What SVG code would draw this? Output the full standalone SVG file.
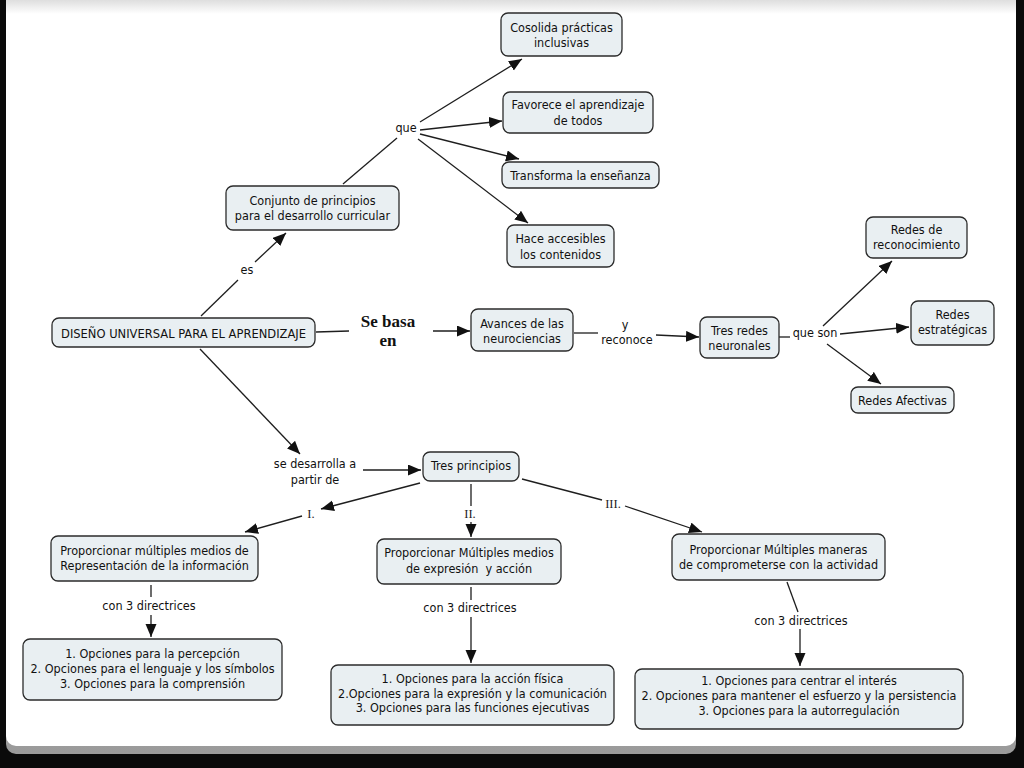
<svg xmlns="http://www.w3.org/2000/svg" width="1024" height="768" viewBox="0 0 1024 768">
<defs>
<style>
.box{fill:#e9eff2;stroke:#2b2b2b;stroke-width:1.3}
.t{font-family:"DejaVu Sans Condensed","DejaVu Sans",sans-serif;font-size:12.5px;fill:#111;text-anchor:middle;white-space:pre}
.r{font-family:"Liberation Serif",serif;font-size:12.5px;fill:#1e1e1e;text-anchor:middle}
.b{font-family:"Liberation Serif",serif;font-size:17px;font-weight:bold;fill:#111;text-anchor:middle}
.c line{stroke:#1e1e1e;stroke-width:1.3;fill:none}
.a{marker-end:url(#ah)}
</style>
<marker id="ah" markerUnits="userSpaceOnUse" markerWidth="14" markerHeight="12" refX="13" refY="5.5" orient="auto">
<path d="M0,0 L13,5.5 L0,11 z" fill="#111"/>
</marker>
<linearGradient id="top" x1="0" y1="0" x2="0" y2="1">
<stop offset="0" stop-color="#dedede"/>
<stop offset="1" stop-color="#ffffff"/>
</linearGradient>
<linearGradient id="bot" x1="0" y1="0" x2="0" y2="1">
<stop offset="0" stop-color="#e6e6e6"/>
<stop offset="1" stop-color="#9a9a9a"/>
</linearGradient>
</defs>
<rect x="0" y="0" width="1024" height="768" fill="#0a0a0a"/>
<rect x="6" y="-10" width="1010" height="764" rx="10" fill="url(#bot)"/>
<rect x="6" y="-10" width="1010" height="756" rx="10" fill="#ffffff"/>
<rect x="6" y="0" width="1010" height="14" fill="url(#top)"/>

<g class="c">
<line x1="201" y1="316" x2="238" y2="280"/>
<line class="a" x1="255" y1="262" x2="286" y2="233"/>
<line x1="343" y1="184" x2="397" y2="138"/>
<line class="a" x1="420" y1="122" x2="522" y2="59"/>
<line class="a" x1="420" y1="130" x2="502" y2="121"/>
<line class="a" x1="420" y1="134" x2="519" y2="159"/>
<line class="a" x1="418" y1="139" x2="528" y2="223"/>
<line x1="316" y1="332" x2="349" y2="331"/>
<line class="a" x1="433" y1="331" x2="470" y2="331"/>
<line x1="574" y1="333" x2="598" y2="333"/>
<line class="a" x1="656" y1="335" x2="699" y2="337"/>
<line x1="779" y1="337" x2="790" y2="337"/>
<line class="a" x1="823" y1="326" x2="892" y2="261"/>
<line class="a" x1="840" y1="334" x2="909" y2="327"/>
<line class="a" x1="827" y1="344" x2="881" y2="384"/>
<line class="a" x1="200" y1="349" x2="300" y2="454"/>
<line class="a" x1="363" y1="470" x2="421" y2="470"/>
<line class="a" x1="420" y1="483" x2="321" y2="509"/>
<line class="a" x1="302" y1="516" x2="245" y2="532"/>
<line x1="471" y1="484" x2="471" y2="506"/>
<line class="a" x1="471" y1="522" x2="471" y2="537"/>
<line x1="522" y1="479" x2="602" y2="500"/>
<line class="a" x1="625" y1="506" x2="702" y2="532"/>
<line x1="151" y1="585" x2="151" y2="597"/>
<line class="a" x1="151" y1="615" x2="151" y2="637"/>
<line x1="471" y1="587" x2="471" y2="600"/>
<line class="a" x1="471" y1="617" x2="471" y2="663"/>
<line x1="787" y1="582" x2="798" y2="612"/>
<line class="a" x1="800" y1="629" x2="800" y2="666"/>
</g>

<g id="n-dua"><rect class="box" x="52" y="318" width="263" height="29" rx="7"/><text class="t" x="183.5" y="337.5" style="font-size:12.8px">DISEÑO UNIVERSAL PARA EL APRENDIZAJE</text></g>
<g id="n-conjunto"><rect class="box" x="226" y="186" width="173" height="44" rx="7"/><text class="t" x="312.5" y="204.5">Conjunto de principios</text><text class="t" x="312.5" y="219.5">para el desarrollo curricular</text></g>
<g id="n-cosolida"><rect class="box" x="501" y="13" width="121" height="43" rx="7"/><text class="t" x="561.5" y="31.5">Cosolida prácticas</text><text class="t" x="561.5" y="47">inclusivas</text></g>
<g id="n-favorece"><rect class="box" x="503" y="92" width="150" height="41" rx="7"/><text class="t" x="578" y="108.5">Favorece el aprendizaje</text><text class="t" x="578" y="124.5">de todos</text></g>
<g id="n-transforma"><rect class="box" x="502" y="162" width="157" height="26" rx="7"/><text class="t" x="580.5" y="179.5">Transforma la enseñanza</text></g>
<g id="n-hace"><rect class="box" x="507" y="225" width="107" height="42" rx="7"/><text class="t" x="560.5" y="243">Hace accesibles</text><text class="t" x="560.5" y="258.5">los contenidos</text></g>
<g id="n-avances"><rect class="box" x="471" y="309" width="102" height="42" rx="7"/><text class="t" x="522" y="327.5">Avances de las</text><text class="t" x="522" y="342.5">neurociencias</text></g>
<g id="n-tresredes"><rect class="box" x="700" y="317" width="79" height="41" rx="7"/><text class="t" x="739.5" y="334.5">Tres redes</text><text class="t" x="739.5" y="349.5">neuronales</text></g>
<g id="n-reconocimiento"><rect class="box" x="866" y="217" width="101" height="41" rx="7"/><text class="t" x="916.5" y="234">Redes de</text><text class="t" x="916.5" y="249">reconocimiento</text></g>
<g id="n-estrategicas"><rect class="box" x="911" y="301" width="83" height="44" rx="7"/><text class="t" x="952.5" y="319">Redes</text><text class="t" x="952.5" y="334">estratégicas</text></g>
<g id="n-afectivas"><rect class="box" x="851" y="387" width="103" height="26" rx="7"/><text class="t" x="902.5" y="404.5">Redes Afectivas</text></g>
<g id="n-tresprincipios"><rect class="box" x="423" y="452" width="96" height="29" rx="7"/><text class="t" x="471" y="469.5">Tres principios</text></g>
<g id="n-p1"><rect class="box" x="51" y="536" width="207" height="45" rx="7"/><text class="t" x="154.5" y="555">Proporcionar múltiples medios de</text><text class="t" x="154.5" y="570">Representación de la información</text></g>
<g id="n-p2"><rect class="box" x="377" y="539" width="184" height="45" rx="7"/><text class="t" x="469" y="557">Proporcionar Múltiples medios</text><text class="t" x="469" y="573" xml:space="preserve">de expresión  y acción</text></g>
<g id="n-p3"><rect class="box" x="672" y="534" width="213" height="46" rx="7"/><text class="t" x="778.5" y="554">Proporcionar Múltiples maneras</text><text class="t" x="778.5" y="569">de comprometerse con la actividad</text></g>
<g id="n-d1"><rect class="box" x="23" y="639" width="259" height="61" rx="7"/><text class="t" x="152.5" y="658">1. Opciones para la percepción</text><text class="t" x="152.5" y="673">2. Opciones para el lenguaje y los símbolos</text><text class="t" x="152.5" y="688">3. Opciones para la comprensión</text></g>
<g id="n-d2"><rect class="box" x="331" y="665" width="283" height="60" rx="7"/><text class="t" x="472.5" y="683">1. Opciones para la acción física</text><text class="t" x="472.5" y="697.5">2.Opciones para la expresión y la comunicación</text><text class="t" x="472.5" y="712">3. Opciones para las funciones ejecutivas</text></g>
<g id="n-d3"><rect class="box" x="635" y="669" width="328" height="60" rx="7"/><text class="t" x="799" y="685">1. Opciones para centrar el interés</text><text class="t" x="799" y="700">2. Opciones para mantener el esfuerzo y la persistencia</text><text class="t" x="799" y="715">3. Opciones para la autorregulación</text></g>

<g id="labels">
<text class="t" x="406" y="132">que</text>
<text class="t" x="247" y="274">es</text>
<text class="b" x="388" y="327">Se basa</text>
<text class="b" x="388" y="346">en</text>
<text class="t" x="625" y="329">y</text>
<text class="t" x="627" y="344">reconoce</text>
<text class="t" x="815" y="337">que son</text>
<text class="t" x="315" y="468">se desarrolla a</text>
<text class="t" x="315" y="484">partir de</text>
<text class="r" x="311" y="518">I.</text>
<text class="r" x="470" y="518">II.</text>
<text class="r" x="613" y="508">III.</text>
<text class="t" x="149" y="610">con 3 directrices</text>
<text class="t" x="470" y="612">con 3 directrices</text>
<text class="t" x="801" y="625">con 3 directrices</text>
</g>
</svg>
